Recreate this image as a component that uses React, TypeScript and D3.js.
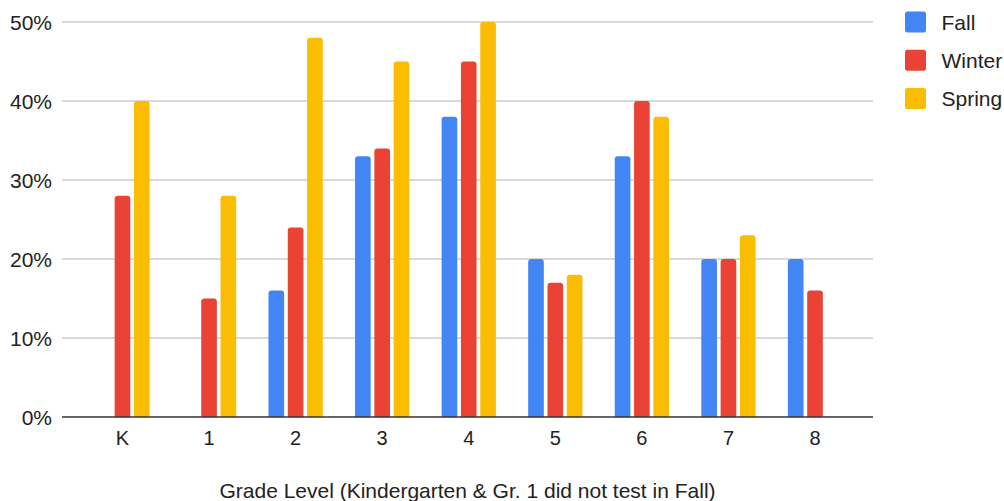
import React from "react";
import * as d3 from "d3";

const categories = ["K", "1", "2", "3", "4", "5", "6", "7", "8"];
const seriesNames = ["Fall", "Winter", "Spring"];
const fall: (number | null)[] = [null, null, 16, 33, 38, 20, 33, 20, 20];
const winter: (number | null)[] = [28, 15, 24, 34, 45, 17, 40, 20, 16];
const spring: (number | null)[] = [40, 28, 48, 45, 50, 18, 38, 23, null];
const colors = ["#4285f4", "#ea4335", "#fbbc04"];
const yTicks = [0, 10, 20, 30, 40, 50];
const xTitle = "Grade Level (Kindergarten & Gr. 1 did not test in Fall)";

const W = 1004;
const H = 501;
const FONT = "Arial, 'Liberation Sans', sans-serif";

export default function App() {
  const seriesValues = [fall, winter, spring];
  const plotLeft = 62;
  const plotRight = 873;
  const y = d3.scaleLinear().domain([0, 50]).range([417, 22]);
  const x0 = d3
    .scaleBand<string>()
    .domain(categories)
    .range([79.2, 858.3])
    .paddingInner(0.373)
    .paddingOuter(0.1865);
  const x1 = d3
    .scaleBand<string>()
    .domain(seriesNames)
    .range([0, x0.bandwidth()])
    .paddingInner(0.19);

  const barPath = (xL: number, w: number, yT: number, yB: number, r: number) => {
    const rr = Math.min(r, (yB - yT) / 2, w / 2);
    return `M${xL},${yB}L${xL},${yT + rr}Q${xL},${yT} ${xL + rr},${yT}L${xL + w - rr},${yT}Q${xL + w},${yT} ${xL + w},${yT + rr}L${xL + w},${yB}Z`;
  };

  return (
    <div style={{ position: "fixed", left: 0, top: 0, width: W, height: H, overflow: "hidden", background: "#fff" }}>
      <svg width={W} height={H} style={{ display: "block" }} fontFamily={FONT}>
        {yTicks.map((t) => (
          <g key={t}>
            {t !== 0 && (
              <line x1={plotLeft} x2={plotRight} y1={y(t)} y2={y(t)} stroke="#cccccc" strokeWidth={1.5} />
            )}
            <text x={52} y={y(t)} dy="0.36em" textAnchor="end" fontSize={21} fill="#222">
              {t}%
            </text>
          </g>
        ))}
        {categories.map((c, i) => (
          <g key={c}>
            {seriesNames.map((s, j) => {
              const v = seriesValues[j][i];
              if (v == null) return null;
              const xL = (x0(c) ?? 0) + (x1(s) ?? 0);
              return (
                <path key={s} d={barPath(xL, x1.bandwidth(), y(v), y(0), 3)} fill={colors[j]} />
              );
            })}
            <text
              x={(x0(c) ?? 0) + x0.bandwidth() / 2}
              y={445}
              textAnchor="middle"
              fontSize={20}
              fill="#222"
            >
              {c}
            </text>
          </g>
        ))}
        <line x1={plotLeft} x2={plotRight} y1={y(0)} y2={y(0)} stroke="#333" strokeWidth={1.5} />
        <text x={(plotLeft + plotRight) / 2} y={497.5} textAnchor="middle" fontSize={21} fill="#222">
          {xTitle}
        </text>
        {seriesNames.map((s, j) => (
          <g key={s} transform={`translate(905,${22 + j * 38.3})`}>
            <rect x={0} y={-10.5} width={21} height={21} rx={2.5} fill={colors[j]} />
            <text x={36.5} y={0} dy="0.36em" fontSize={21} fill="#222">
              {s}
            </text>
          </g>
        ))}
      </svg>
    </div>
  );
}
